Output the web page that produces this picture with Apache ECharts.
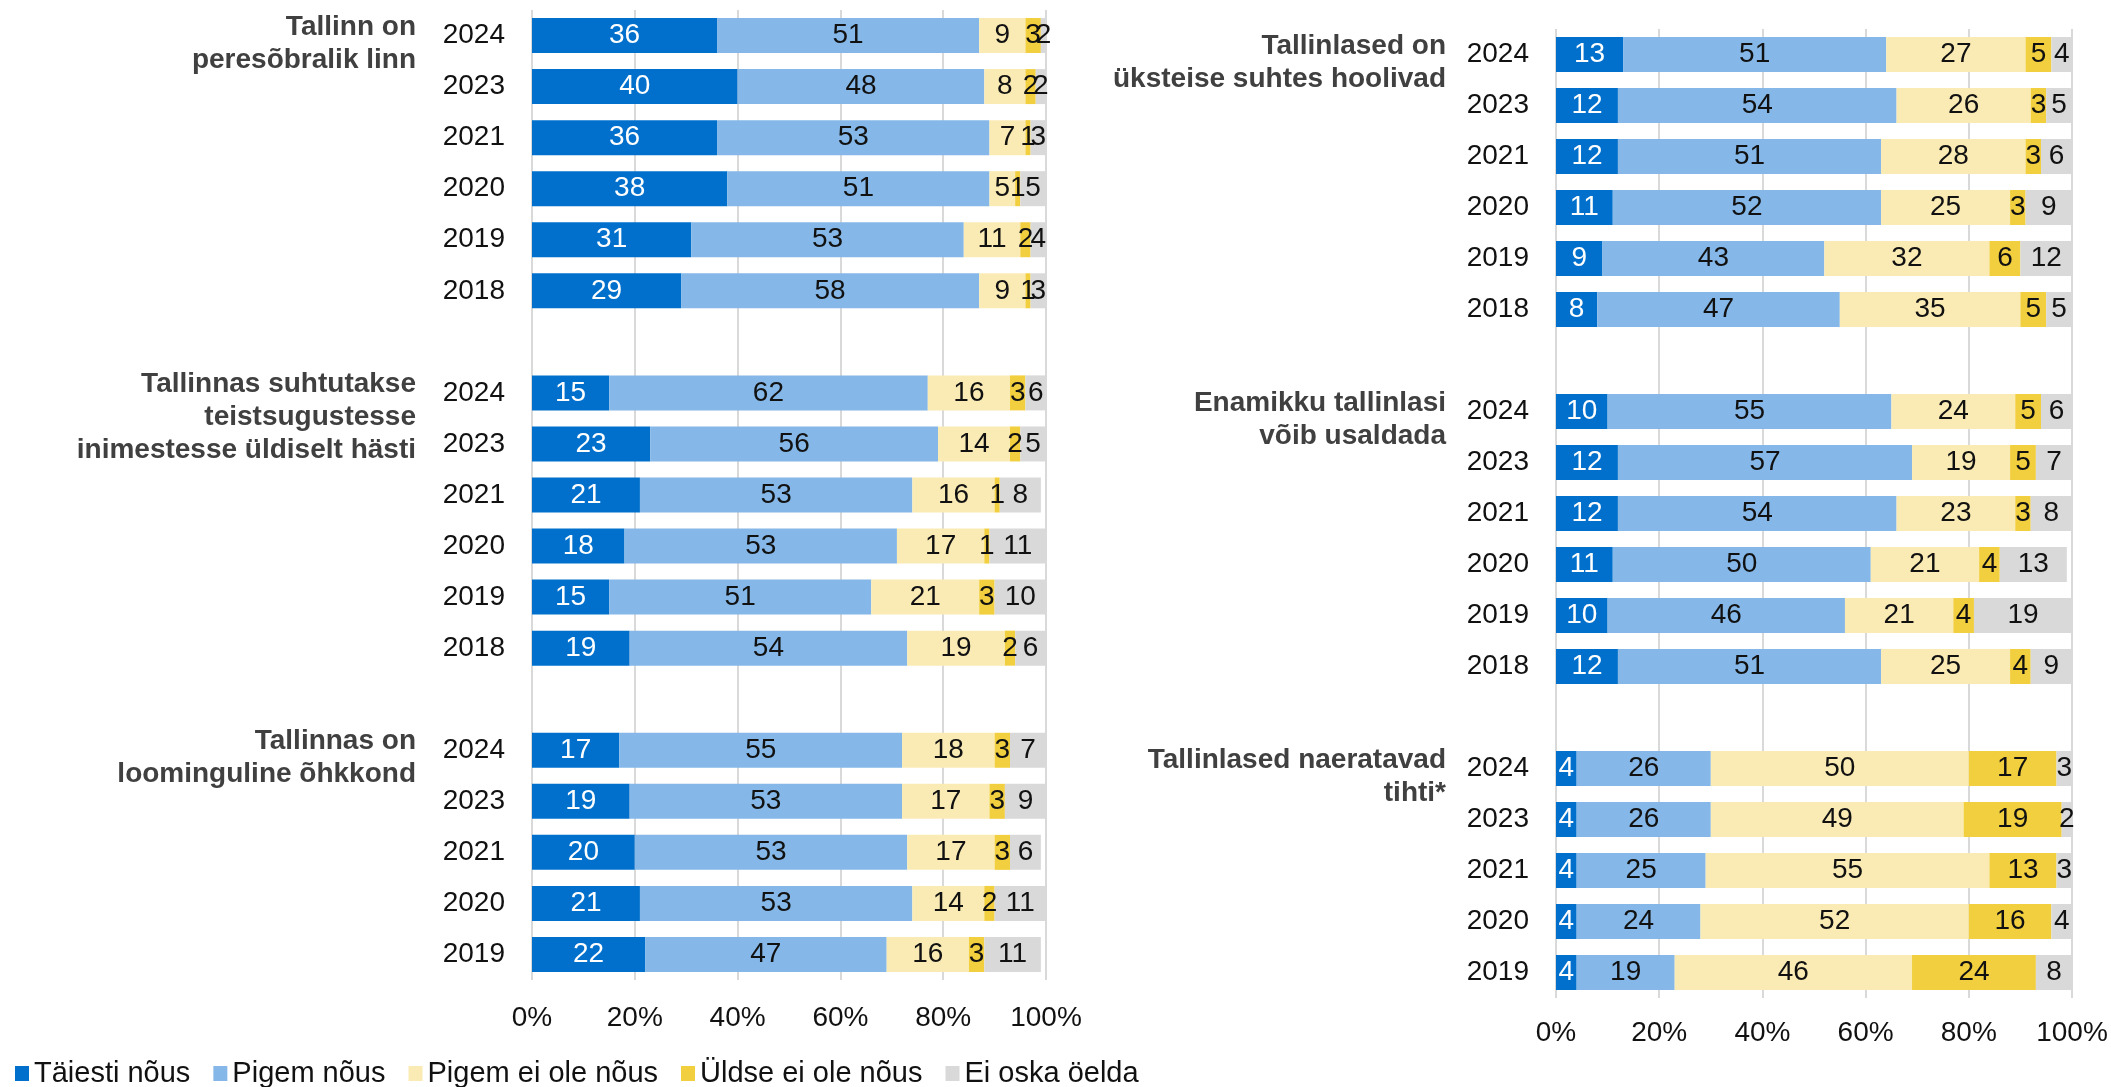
<!DOCTYPE html>
<html>
<head>
<meta charset="utf-8">
<script src="https://cdn.jsdelivr.net/npm/echarts@6/dist/echarts.min.js"></script>
<style>
  html, body { margin: 0; padding: 0; background: #fff; }
  #main { width: 2111px; height: 1087px; }
</style>
</head>
<body>
<div id="main"></div>
<script>
// legend / series names
const seriesNames = ['Täiesti nõus', 'Pigem nõus', 'Pigem ei ole nõus', 'Üldse ei ole nõus', 'Ei oska öelda'];
const seriesColors = ['#0070cc', '#85b8e8', '#faebb5', '#f2cf3f', '#d9d9d9'];
const xTicks = ['0%', '20%', '40%', '60%', '80%', '100%'];

// left side groups
const leftTitles = ['Tallinn on\nperesõbralik linn', 'Tallinnas suhtutakse\nteistsugustesse\ninimestesse üldiselt hästi', 'Tallinnas on\nloominguline õhkkond'];
const leftYears = [
  ['2024', '2023', '2021', '2020', '2019', '2018'],
  ['2024', '2023', '2021', '2020', '2019', '2018'],
  ['2024', '2023', '2021', '2020', '2019']
];
const leftTaiesti = [[36, 40, 36, 38, 31, 29], [15, 23, 21, 18, 15, 19], [17, 19, 20, 21, 22]];
const leftPigem = [[51, 48, 53, 51, 53, 58], [62, 56, 53, 53, 51, 54], [55, 53, 53, 53, 47]];
const leftPigemEi = [[9, 8, 7, 5, 11, 9], [16, 14, 16, 17, 21, 19], [18, 17, 17, 14, 16]];
const leftUldse = [[3, 2, 1, 1, 2, 1], [3, 2, 1, 1, 3, 2], [3, 3, 3, 2, 3]];
const leftEiOska = [[2, 2, 3, 5, 4, 3], [6, 5, 8, 11, 10, 6], [7, 9, 6, 11, 11]];

// right side groups
const rightTitles = ['Tallinlased on\nüksteise suhtes hoolivad', 'Enamikku tallinlasi\nvõib usaldada', 'Tallinlased naeratavad\ntihti*'];
const rightYears = [
  ['2024', '2023', '2021', '2020', '2019', '2018'],
  ['2024', '2023', '2021', '2020', '2019', '2018'],
  ['2024', '2023', '2021', '2020', '2019']
];
const rightTaiesti = [[13, 12, 12, 11, 9, 8], [10, 12, 12, 11, 10, 12], [4, 4, 4, 4, 4]];
const rightPigem = [[51, 54, 51, 52, 43, 47], [55, 57, 54, 50, 46, 51], [26, 26, 25, 24, 19]];
const rightPigemEi = [[27, 26, 28, 25, 32, 35], [24, 19, 23, 21, 21, 25], [50, 49, 55, 52, 46]];
const rightUldse = [[5, 3, 3, 3, 6, 5], [5, 5, 3, 4, 4, 4], [17, 19, 13, 16, 24]];
const rightEiOska = [[4, 5, 6, 9, 12, 5], [6, 7, 8, 13, 19, 9], [3, 2, 3, 4, 8]];

const FONT = '"Liberation Sans", Arial, sans-serif';

// groups -> one flat category list with an empty slot between groups
const flatten = (groups, blank) => {
  const out = [];
  groups.forEach((g, i) => {
    if (i > 0) out.push(blank);
    g.forEach(v => out.push(v));
  });
  return out;
};
const groupStarts = (groups) => {
  const starts = [];
  let idx = 0;
  groups.forEach((g) => {
    starts.push(idx);
    idx += g.length + 1;
  });
  return starts;
};

const leftData = [leftTaiesti, leftPigem, leftPigemEi, leftUldse, leftEiOska];
const rightData = [rightTaiesti, rightPigem, rightPigemEi, rightUldse, rightEiOska];

const makeSeries = (data, axisIndex, stack) => data.map((groups, i) => ({
  name: seriesNames[i],
  type: 'bar',
  stack: stack,
  xAxisIndex: axisIndex,
  yAxisIndex: axisIndex,
  barWidth: 35,
  data: flatten(groups, null),
  itemStyle: { color: seriesColors[i] },
  label: {
    show: true,
    position: 'inside',
    fontFamily: FONT,
    fontSize: 28,
    color: i === 0 ? '#ffffff' : '#111111'
  },
  emphasis: { disabled: true }
}));

const makeXAxis = (gridIndex, margin) => ({
  type: 'value',
  gridIndex: gridIndex,
  min: 0,
  max: 100,
  interval: 20,
  axisLine: { show: false },
  axisTick: { show: false },
  splitLine: { show: true, lineStyle: { color: '#d9d9d9', width: 2 } },
  axisLabel: {
    margin: margin,
    fontFamily: FONT,
    fontSize: 28,
    color: '#111111',
    formatter: (v) => xTicks[Math.round(v / 20)]
  }
});

const makeYAxis = (gridIndex, years) => ({
  type: 'category',
  gridIndex: gridIndex,
  inverse: true,
  data: flatten(years, ''),
  axisLine: { show: false },
  axisTick: { show: false },
  axisLabel: {
    margin: 27,
    fontFamily: FONT,
    fontSize: 28,
    color: '#111111'
  }
});

const chart = echarts.init(document.getElementById('main'));

const option = {
  animation: false,
  backgroundColor: '#ffffff',
  grid: [
    { left: 532, top: 10, width: 514, height: 970 },
    { left: 1556, top: 29, width: 516, height: 969 }
  ],
  xAxis: [makeXAxis(0, 24), makeXAxis(1, 21)],
  yAxis: [makeYAxis(0, leftYears), makeYAxis(1, rightYears)],
  legend: {
    data: seriesNames,
    left: 10,
    top: 1054,
    icon: 'rect',
    itemWidth: 14,
    itemHeight: 15,
    itemGap: 23,
    textStyle: { fontFamily: FONT, fontSize: 29, color: '#111111' }
  },
  series: [...makeSeries(leftData, 0, 'left'), ...makeSeries(rightData, 1, 'right')]
};

chart.setOption(option);

// group titles, placed against the first category of each group
const titleGraphics = [];
const addTitles = (titles, years, axisIndex, rightEdge) => {
  const starts = groupStarts(years);
  titles.forEach((t, g) => {
    const yc = chart.convertToPixel({ yAxisIndex: axisIndex }, starts[g]);
    titleGraphics.push({
      type: 'text',
      silent: true,
      style: {
        text: t,
        x: rightEdge,
        y: yc - 25,
        align: 'right',
        verticalAlign: 'top',
        fontFamily: FONT,
        fontWeight: 'bold',
        fontSize: 28,
        lineHeight: 33,
        fill: '#404040'
      }
    });
  });
};
addTitles(leftTitles, leftYears, 0, 416);
addTitles(rightTitles, rightYears, 1, 1446);

chart.setOption({ graphic: titleGraphics });
</script>
</body>
</html>
